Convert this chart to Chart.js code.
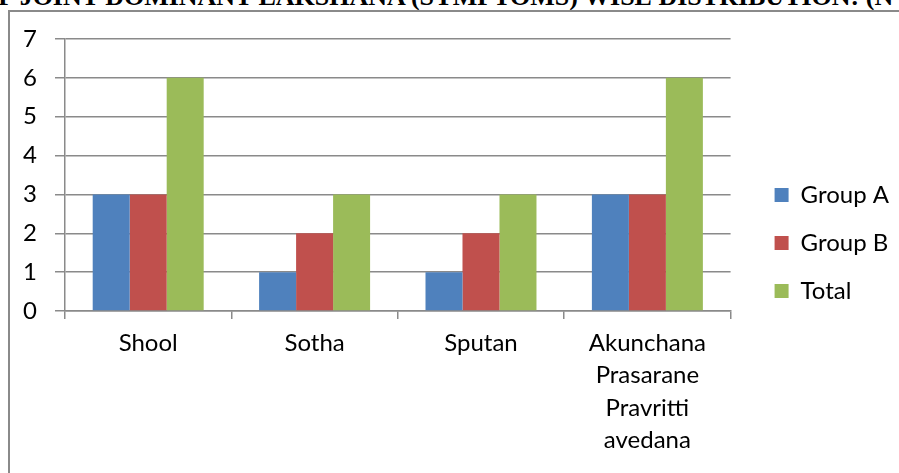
<!DOCTYPE html>
<html>
<head>
<meta charset="utf-8">
<script src="https://cdn.jsdelivr.net/npm/chart.js@4.4.1/dist/chart.umd.min.js"></script>
<style>
  html, body { margin: 0; padding: 0; background: #fff; overflow: hidden; width: 899px; height: 473px; }
  #title { position: absolute; left: -22px; top: -16px; white-space: nowrap; font-family: "Liberation Serif", serif; font-weight: bold; font-size: 26px; color: #000; line-height: 26px; }
  #frame { position: absolute; left: 8px; top: 10px; width: 1000px; height: 600px; border-left: 2px solid #8a8a8a; border-top: 2px solid #8a8a8a; }
  #wrap { position: absolute; left: 0; top: 0; width: 899px; height: 473px; }
</style>
</head>
<body>
<div id="title">OF JOINT DOMINANT LAKSHANA (SYMPTOMS) WISE DISTRIBUTION: (N=6)</div>
<div id="frame"></div>
<div id="wrap"><canvas id="c" width="899" height="473"></canvas></div>
<script>
const categories = ["Shool", "Sotha", "Sputan", ["Akunchana", "Prasarane", "Pravritti", "avedana"]];
const groupA = [3, 1, 1, 3];
const groupB = [3, 2, 2, 3];
const total  = [6, 3, 3, 6];
const yTicks = [0, 1, 2, 3, 4, 5, 6, 7];

const FONT = "Lato, 'Open Sans', sans-serif";

new Chart(document.getElementById('c'), {
  type: 'bar',
  data: {
    labels: categories,
    datasets: [
      { label: 'Group A', data: groupA, backgroundColor: '#4F81BD', yAxisID: 'y' },
      { label: 'Group B', data: groupB, backgroundColor: '#C0504D', yAxisID: 'y' },
      { label: 'Total',   data: total,  backgroundColor: '#9BBB59', yAxisID: 'y' }
    ]
  },
  options: {
    responsive: false,
    animation: false,
    events: [],
    datasets: { bar: { categoryPercentage: 0.667, barPercentage: 1.0 } },
    layout: { padding: { top: 13, bottom: 0, left: 0, right: 0 } },
    plugins: {
      title: { display: false },
      tooltip: { enabled: false },
      legend: {
        position: 'right',
        align: 'center',
        labels: {
          boxWidth: 14,
          boxHeight: 14,
          padding: 24,
          color: '#000',
          font: { family: FONT, size: 24 }
        }
      }
    },
    scales: {
      x: {
        position: 'bottom',
        grid: { display: true, drawOnChartArea: false, drawTicks: true, tickLength: 8, offset: true, color: '#8a8a8a', lineWidth: 1.5 },
        border: { display: true, color: '#8a8a8a', width: 1.5 },
        ticks: { color: '#000', font: { family: FONT, size: 24, lineHeight: 1.35 }, padding: 8, maxRotation: 0, autoSkip: false },
        afterFit: (s) => { s.height = 162; }
      },
      topSpacer: {
        type: 'category',
        axis: 'x',
        position: 'top',
        display: true,
        grid: { display: false, drawTicks: false },
        border: { display: false },
        ticks: { display: false },
        afterFit: (s) => { s.height = 26; }
      },
      y: {
        position: 'left',
        min: 0, max: 7,
        afterBuildTicks: (s) => { s.ticks = yTicks.map(v => ({ value: v })); },
        grid: { display: true, drawTicks: true, tickLength: 10, color: '#8a8a8a', lineWidth: 1.5 },
        border: { display: true, color: '#8a8a8a', width: 1.5 },
        ticks: { color: '#000', font: { family: FONT, size: 24 }, padding: 18 },
        afterFit: (s) => { s.width = 65; }
      },
      spacer: {
        position: 'right',
        display: true,
        grid: { display: false, drawTicks: false },
        border: { display: false },
        ticks: { display: false },
        afterFit: (s) => { s.width = 20; }
      }
    }
  }
});
</script>
</body>
</html>
